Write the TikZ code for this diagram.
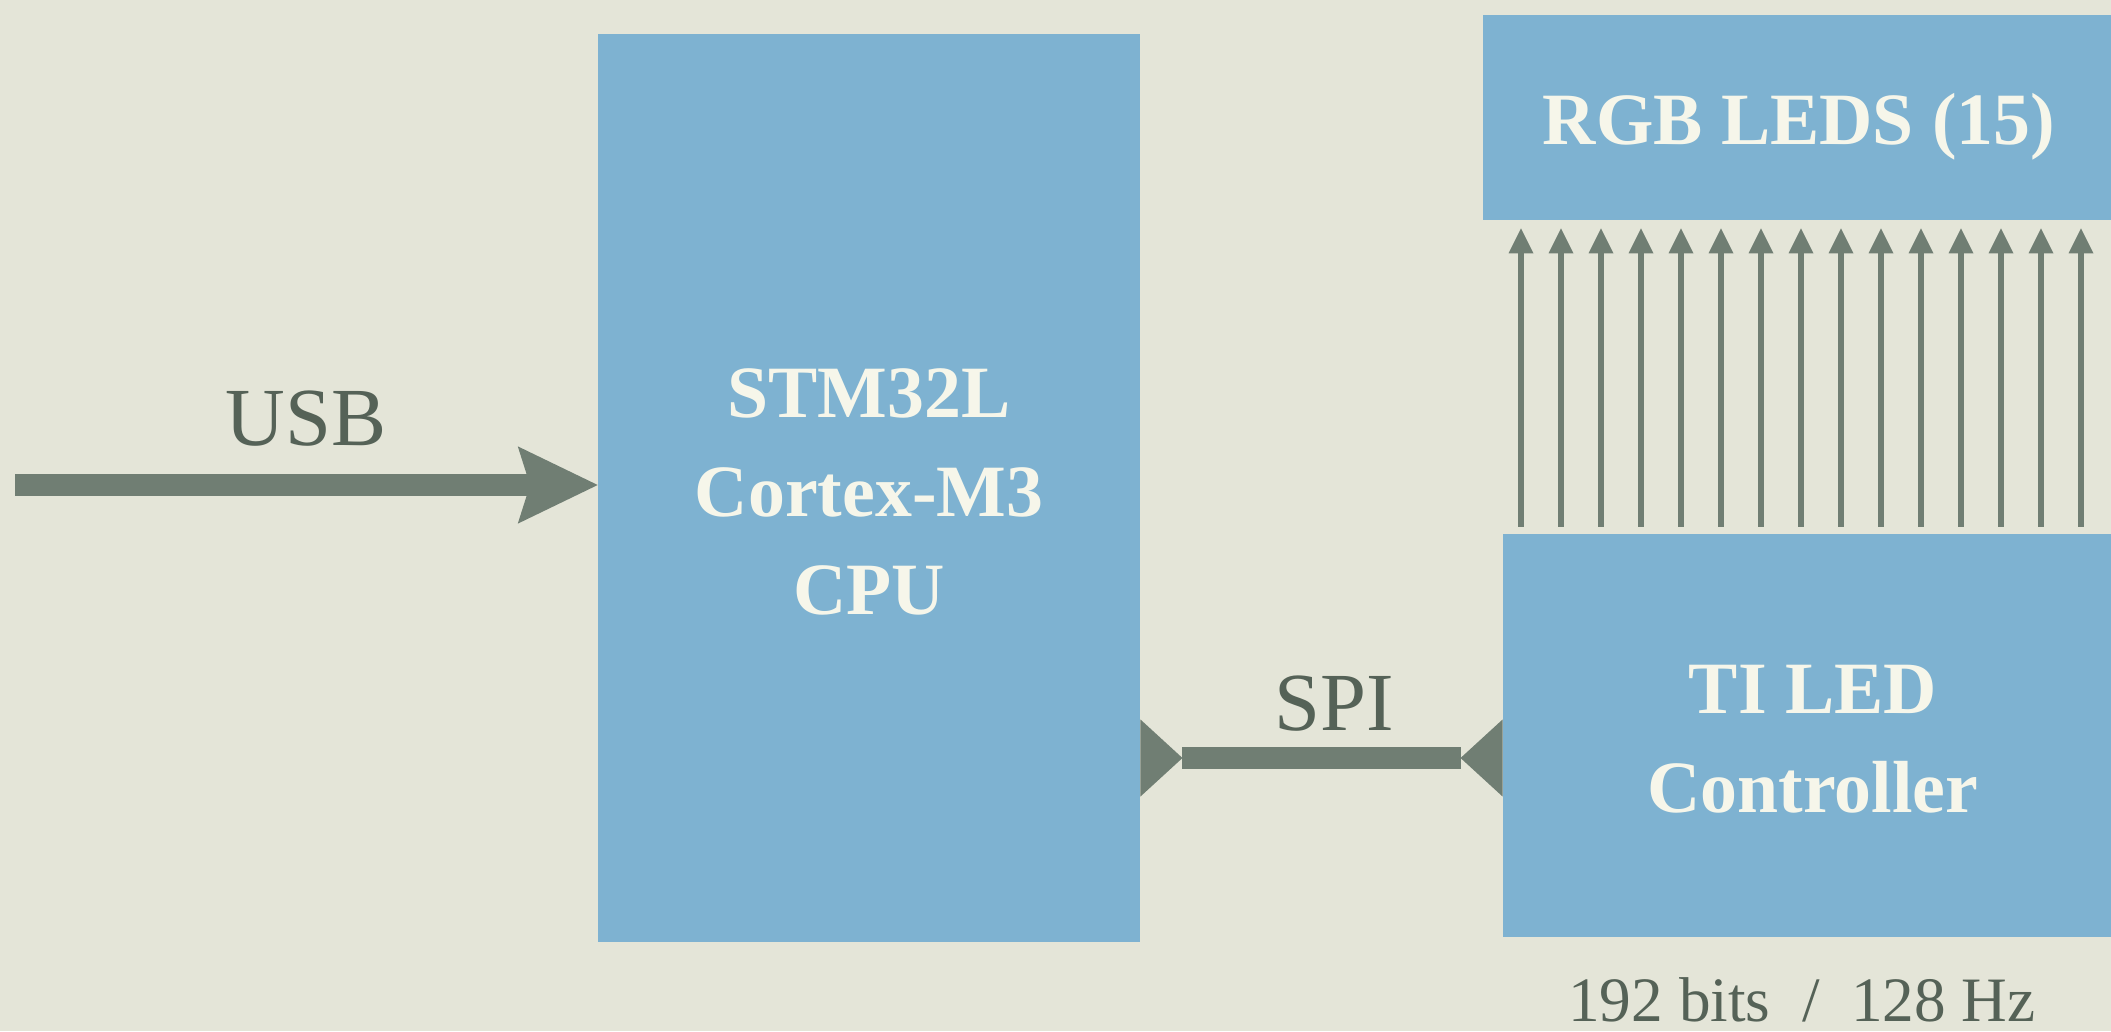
\documentclass[tikz,border=0pt]{standalone}
\usepackage{fontspec}
\setmainfont{Liberation Serif}
\usetikzlibrary{arrows.meta}
\definecolor{bgc}{RGB}{228,229,216}
\definecolor{boxc}{RGB}{126,178,209}
\definecolor{boxtxt}{RGB}{246,246,234}
\definecolor{arrc}{RGB}{112,126,115}
\definecolor{lbltxt}{RGB}{85,98,87}
\begin{document}
\begin{tikzpicture}[x=0.02cm,y=-0.02cm,
  blk/.style={rectangle, fill=boxc, inner sep=0pt},
  blktext/.style={text=boxtxt, inner sep=0pt, align=center,
    font=\fontsize{42}{56.3}\selectfont\bfseries},
  lbl/.style={text=lbltxt, inner sep=0pt, anchor=base,
    font=\fontsize{47}{56}\selectfont},
  small/.style={text=lbltxt, inner sep=0pt, anchor=base,
    font=\fontsize{36}{44}\selectfont},
  fatarrow/.style={draw=arrc, line width=12.2pt,
    -{Stealth[length=45.5pt,width=44pt,inset=7pt,line width=0pt,fill=arrc]}},
  busline/.style={draw=arrc, line width=12.2pt,
    {Triangle[reversed,length=24pt,width=44pt,line width=0pt,fill=arrc]}-{Triangle[reversed,length=24pt,width=44pt,line width=0pt,fill=arrc]}},
  ledarrow/.style={draw=arrc, line width=3pt,
    -{Triangle[length=14.2pt,width=14.2pt,line width=0pt,fill=arrc]},
    shorten <=0.14cm, shorten >=0.16cm}
]
\clip (0,0) rectangle (2111,1031);
\fill[bgc] (0,0) rectangle (2111,1031);

\node[blk, minimum width=10.84cm, minimum height=18.16cm] (cpu) at (869,488) {};
\node[blk, minimum width=12.64cm, minimum height=4.1cm] (rgb) at (1799,117.5) {};
\node[blk, minimum width=12.4cm, minimum height=8.06cm] (ti) at (1813,735.5) {};

\node[blktext] (cputext) at ([yshift=-0.08cm]cpu.center) {STM32L\\Cortex-M3\\CPU};
\node[blktext] (rgbtext) at ([yshift=-0.18cm]rgb.center) {RGB LEDS (15)};
\node[blktext] (titext) at ([yshift=-0.08cm]ti.center) {TI LED\\Controller};

\node[lbl] (usb) at (306,445) {USB};
\node[lbl] (spi) at (1334,730) {SPI};
\node[small] (rate) at (1802,1021) {192 bits\ \ /\ \ 128 Hz};

\coordinate (usbin) at (15,485);
\coordinate (spiy) at (0,758);
\draw[fatarrow] (usbin) -- (usbin -| cpu.west);
\draw[busline] (cpu.east |- spiy) -- (ti.west |- spiy);

\foreach \i in {0,...,14}{
  \coordinate (c\i) at (1521+40*\i,0);
  \draw[ledarrow] (ti.north -| c\i) -- (rgb.south -| c\i);
}
\end{tikzpicture}
\end{document}
